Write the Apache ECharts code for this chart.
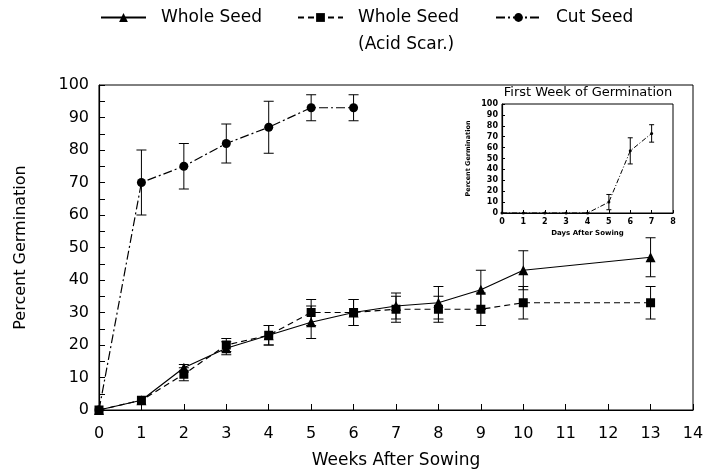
<!DOCTYPE html>
<html>
<head>
<meta charset="utf-8">
<script src="https://cdn.jsdelivr.net/npm/echarts@6/dist/echarts.min.js"></script>
<style>
  html, body { margin: 0; padding: 0; background: #fff; }
  #chart { width: 720px; height: 474px; }
</style>
</head>
<body>
<div id="chart"></div>
<script>
// weeks after sowing
const weeks = [0, 1, 2, 3, 4, 5, 6, 7, 8, 9, 10, 13]
const wholeSeed = [0, 3, 13, 19, 23, 27, 30, 32, 33, 37, 43, 47]
const wholeSeedErr = [0, 0, 1, 2, 3, 5, 4, 4, 5, 6, 6, 6]
const acidScar = [0, 3, 11, 20, 23, 30, 30, 31, 31, 31, 33, 33]
const acidScarErr = [0, 0, 2, 2, 3, 4, 4, 4, 4, 5, 5, 5]
const cutWeeks = [0, 1, 2, 3, 4, 5, 6]
const cutSeed = [0, 70, 75, 82, 87, 93, 93]
const cutSeedErr = [0, 10, 7, 6, 8, 4, 4]

// inset: first week
const days = [0, 1, 2, 3, 4, 5, 6, 7]
const firstWeek = [0, 0, 0, 0, 0, 10, 57, 73]
const firstWeekErr = [0, 0, 0, 0, 0, 7, 12, 8]

const FONT = 'DejaVu Sans'

const pairs = (xs, ys) => xs.map((x, i) => [x, ys[i]])
const bars = (xs, ys, es) => xs.map((x, i) => [x, ys[i] - es[i], ys[i] + es[i]])

// error bar drawer
function errorBar(cap) {
    return function (params, api) {
        const x = api.value(0)
        const lo = api.value(1)
        const hi = api.value(2)
        if (hi - lo <= 0) return
        const t = api.coord([x, hi])
        const b = api.coord([x, lo])
        const st = { stroke: '#000', lineWidth: 1 }
        return {
            type: 'group',
            children: [
                { type: 'line', shape: { x1: t[0], y1: t[1], x2: b[0], y2: b[1] }, style: st },
                { type: 'line', shape: { x1: t[0] - cap, y1: t[1], x2: t[0] + cap, y2: t[1] }, style: st },
                { type: 'line', shape: { x1: b[0] - cap, y1: b[1], x2: b[0] + cap, y2: b[1] }, style: st }
            ]
        }
    }
}

const chart = echarts.init(document.getElementById('chart'))

const legendBase = {
    orient: 'horizontal',
    top: 9,
    padding: 0,
    itemWidth: 45,
    itemHeight: 11,
    textStyle: { fontFamily: FONT, fontSize: 17, color: '#000', padding: [0, 0, 0, 10] }
}

chart.setOption({
    backgroundColor: '#fff',
    animation: false,
    title: {
        text: 'First Week of Germination',
        left: 588,
        top: 86,
        textAlign: 'center',
        padding: 0,
        textStyle: { fontFamily: FONT, fontSize: 13, fontWeight: 'normal', color: '#000' }
    },
    legend: [
        Object.assign({}, legendBase, { left: 100, data: ['Whole Seed'] }),
        Object.assign({}, legendBase, {
            left: 297,
            data: ['Whole Seed (Acid Scar.)'],
            formatter: () => 'Whole Seed'
        }),
        Object.assign({}, legendBase, { left: 495, data: ['Cut Seed'] })
    ],
    graphic: [
        {
            type: 'text',
            left: 358,
            top: 36,
            style: { text: '(Acid Scar.)', fontFamily: FONT, fontSize: 17, fill: '#000' }
        }
    ],
    grid: [
        { left: 99, right: 27, top: 85, bottom: 61, show: true, borderColor: '#000', borderWidth: 1, backgroundColor: 'transparent' },
        { left: 502, right: 47, top: 104, bottom: 261, show: true, borderColor: '#000', borderWidth: 1, backgroundColor: 'transparent' }
    ],
    xAxis: [
        {
            type: 'value', gridIndex: 0, min: 0, max: 14, interval: 1,
            name: 'Weeks After Sowing', nameLocation: 'middle', nameGap: 42,
            nameTextStyle: { fontFamily: FONT, fontSize: 17, color: '#000' },
            axisLine: { lineStyle: { color: '#000', width: 1.2 } },
            axisTick: { inside: true, length: 6, lineStyle: { color: '#000' } },
            axisLabel: { fontFamily: FONT, fontSize: 16, color: '#000', margin: 16 },
            splitLine: { show: false }
        },
        {
            type: 'value', gridIndex: 1, min: 0, max: 8, interval: 1,
            name: 'Days After Sowing', nameLocation: 'middle', nameGap: 17,
            nameTextStyle: { fontFamily: FONT, fontSize: 7, fontWeight: 'bold', color: '#000' },
            axisLine: { lineStyle: { color: '#000', width: 1.2 } },
            axisTick: { inside: true, length: 3, lineStyle: { color: '#000' } },
            axisLabel: { fontFamily: FONT, fontSize: 8, fontWeight: 'bold', color: '#000', margin: 5 },
            splitLine: { show: false }
        }
    ],
    yAxis: [
        {
            type: 'value', gridIndex: 0, min: 0, max: 100, interval: 10,
            name: 'Percent Germination', nameLocation: 'middle', nameGap: 70,
            nameTextStyle: { fontFamily: FONT, fontSize: 16, color: '#000' },
            axisLine: { lineStyle: { color: '#000', width: 1.2 } },
            axisTick: { inside: true, length: 6, lineStyle: { color: '#000' } },
            minorTick: { show: true, splitNumber: 2, length: 6, lineStyle: { color: '#000' } },
            axisLabel: { fontFamily: FONT, fontSize: 16, color: '#000', margin: 10 },
            splitLine: { show: false }
        },
        {
            type: 'value', gridIndex: 1, min: 0, max: 100, interval: 10,
            name: 'Percent Germination', nameLocation: 'middle', nameGap: 30,
            nameTextStyle: { fontFamily: FONT, fontSize: 6.5, fontWeight: 'bold', color: '#000' },
            axisLine: { lineStyle: { color: '#000', width: 1.2 } },
            axisTick: { inside: true, length: 3, lineStyle: { color: '#000' } },
            axisLabel: { fontFamily: FONT, fontSize: 8, fontWeight: 'bold', color: '#000', margin: 4 },
            splitLine: { show: false }
        }
    ],
    series: [
        {
            name: 'Whole Seed',
            type: 'line',
            data: pairs(weeks, wholeSeed),
            symbol: 'triangle',
            symbolSize: 10,
            itemStyle: { color: '#000' },
            lineStyle: { color: '#000', width: 1.2, type: 'solid' },
            z: 3
        },
        {
            name: 'Whole Seed (Acid Scar.)',
            type: 'line',
            data: pairs(weeks, acidScar),
            symbol: 'rect',
            symbolSize: 9,
            itemStyle: { color: '#000' },
            lineStyle: { color: '#000', width: 1.2, type: [6, 4] },
            z: 3
        },
        {
            name: 'Cut Seed',
            type: 'line',
            data: pairs(cutWeeks, cutSeed),
            symbol: 'circle',
            symbolSize: 9,
            itemStyle: { color: '#000' },
            lineStyle: { color: '#000', width: 1.2, type: [9, 3, 2, 3] },
            z: 3
        },
        {
            type: 'custom', silent: true,
            renderItem: errorBar(5),
            encode: { x: 0, y: [1, 2] },
            data: bars(weeks, wholeSeed, wholeSeedErr)
        },
        {
            type: 'custom', silent: true,
            renderItem: errorBar(5),
            encode: { x: 0, y: [1, 2] },
            data: bars(weeks, acidScar, acidScarErr)
        },
        {
            type: 'custom', silent: true,
            renderItem: errorBar(5),
            encode: { x: 0, y: [1, 2] },
            data: bars(cutWeeks, cutSeed, cutSeedErr)
        },
        {
            name: 'First Week',
            type: 'line',
            xAxisIndex: 1, yAxisIndex: 1,
            data: pairs(days, firstWeek),
            symbol: 'circle',
            symbolSize: 3,
            itemStyle: { color: '#000' },
            lineStyle: { color: '#000', width: 1, type: [5, 2, 1, 2] }
        },
        {
            type: 'custom', silent: true,
            xAxisIndex: 1, yAxisIndex: 1,
            renderItem: errorBar(2.5),
            encode: { x: 0, y: [1, 2] },
            data: bars(days, firstWeek, firstWeekErr)
        }
    ]
})
</script>
</body>
</html>
